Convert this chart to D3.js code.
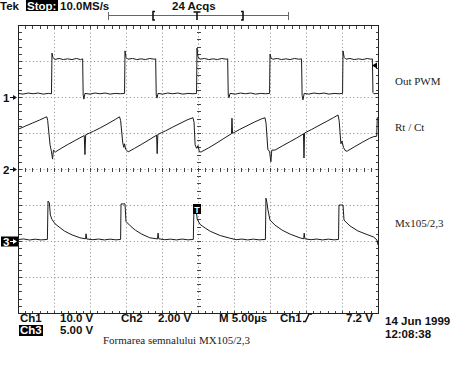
<!DOCTYPE html>
<html lang="en">
<head>
<meta charset="utf-8">
<title>Formarea semnalului MX105/2,3</title>
<script src="https://d3js.org/d3.v7.min.js"></script>
<style>
  body { margin: 0; background: #fff; }
  .tek { font-family: "Liberation Sans", Arial, sans-serif; font-weight: bold; font-size: 11.5px; fill: #111; }
  .note { font-family: "Liberation Serif", "Times New Roman", serif; font-size: 11px; fill: #222; }
  .grid { stroke: #8c8c8c; stroke-width: 1; stroke-dasharray: 1,2.6; fill: none; }
  .trace { fill: none; stroke: #1b1b1b; stroke-width: 1; stroke-linejoin: round; }
</style>
</head>
<body>
<script>
// time axis: 5 us / div, 10 divs ; 8 vertical divs
var timeDomain = [0, 50];
var divsX = 10, divsY = 8;

// channel settings: volts per div and ground position (divs from centre)
var chVoltsPerDiv = [10, 2, 5];
var chPositionDiv = [2, 0, -2];
var traceLabels = ["Out PWM", "Rt / Ct", "Mx105/2,3"];

// Ch1 - Out PWM  [us, V]
var ch1Trace = [
  [0,1.0],[0.7,0.8],[1.4,1.1],[2.1,0.9],[2.8,1.1],[3.5,0.8],[4.2,1.0],[4.65,0.9],
  [4.72,12.2],[4.85,11.0],[5.1,10.4],[5.7,10.7],[6.3,10.4],[6.9,10.6],[7.5,10.4],[8.1,10.7],[8.7,10.4],[8.98,10.6],
  [9.05,0.6],[9.15,-0.6],[9.3,1.0],[10.0,0.8],[10.7,1.1],[11.4,0.9],[12.1,1.1],[12.8,0.8],[13.5,1.0],[14.2,0.9],[14.8,1.0],
  [14.86,12.8],[15.0,11.0],[15.25,10.5],[15.9,10.7],[16.5,10.4],[17.1,10.6],[17.7,10.4],[18.3,10.7],[18.9,10.5],[19.12,10.6],
  [19.2,0.6],[19.3,-0.3],[19.45,1.0],[20.1,0.8],[20.8,1.1],[21.5,0.9],[22.2,1.1],[22.9,0.8],[23.6,1.0],[24.3,0.9],[24.8,1.0],
  [24.86,13.6],[25.0,11.2],[25.25,10.5],[25.9,10.7],[26.5,10.4],[27.1,10.6],[27.7,10.4],[28.3,10.7],[28.9,10.5],[29.12,10.6],
  [29.2,0.6],[29.3,-0.2],[29.45,1.0],[30.2,0.8],[30.9,1.1],[31.6,0.9],[32.3,1.1],[33.0,0.8],[33.7,1.0],[34.4,0.9],[34.94,1.0],
  [35.0,11.9],[35.15,10.8],[35.4,10.5],[36.0,10.7],[36.6,10.4],[37.2,10.6],[37.8,10.4],[38.4,10.7],[39.0,10.5],[39.38,10.6],
  [39.46,0.4],[39.58,-0.8],[39.75,1.0],[40.4,0.8],[41.1,1.1],[41.8,0.9],[42.5,1.1],[43.2,0.8],[43.9,1.0],[44.6,0.9],[45.08,1.0],
  [45.14,12.8],[45.3,11.0],[45.55,10.5],[46.1,10.7],[46.7,10.4],[47.3,10.6],[47.9,10.4],[48.5,10.7],[49.0,10.5],[49.22,10.6],
  [49.3,1.2],[49.45,0.9],[50,1.0]
];

// Ch2 - Rt / Ct  [us, V]
var ch2Trace = [
  [0,2.2],[1.0,2.38],[2.0,2.55],[3.0,2.72],[3.7,2.85],[4.0,2.9],[4.12,2.7],[4.45,1.35],[4.65,0.95],[4.8,0.55],[4.92,1.05],[5.2,0.95],
  [6.0,1.15],[7.0,1.38],[8.0,1.6],[9.2,1.86],[9.3,0.8],[9.4,1.9],[10.5,2.1],[11.5,2.3],[12.5,2.52],[13.5,2.75],[14.1,2.9],
  [14.25,2.7],[14.55,1.45],[14.7,1.2],[14.8,1.4],[14.95,1.1],[15.3,0.95],
  [16.2,1.15],[17.2,1.38],[18.2,1.62],[19.25,1.88],[19.33,0.85],[19.42,1.92],[20.5,2.12],[21.5,2.33],[22.5,2.53],[23.5,2.73],[24.3,2.85],
  [24.45,2.6],[24.6,1.35],[24.8,1.15],[25.0,1.3],[25.2,0.95],[25.45,0.95],
  [26.5,1.18],[27.5,1.42],[28.6,1.7],[29.65,1.96],[29.72,2.82],[29.8,1.98],[30.8,2.2],[31.8,2.4],[32.8,2.6],[33.8,2.78],[34.3,2.85],
  [34.45,2.55],[34.7,1.1],[34.95,0.95],[35.12,0.4],[35.25,1.05],[35.7,1.05],
  [36.7,1.28],[37.7,1.5],[38.7,1.72],[39.65,1.95],[39.72,0.61],[39.8,2.0],[40.8,2.2],[41.8,2.42],[42.8,2.63],[43.8,2.85],[44.45,3.0],
  [44.6,2.7],[44.85,1.4],[45.0,1.55],[45.2,1.2],[45.5,1.0],[45.75,1.0],
  [46.8,1.25],[47.8,1.48],[48.8,1.7],[49.4,1.8],[49.82,1.82],[49.9,2.85],[50,2.85]
];

// Ch3 - Mx105/2,3  [us, V]
var ch3Trace = [
  [0,0.2],[0.8,0.28],[1.6,0.14],[2.4,0.25],[3.2,0.15],[4.08,0.22],
  [4.17,5.55],[4.35,5.3],[4.5,3.6],[4.72,3.0],[5.14,2.4],[5.83,1.85],[6.5,1.35],[7.5,0.85],[8.6,0.45],[9.38,0.3],[9.45,1.0],[9.55,0.28],
  [10.4,0.18],[11.2,0.27],[12.0,0.15],[12.8,0.26],[13.6,0.16],[14.25,0.22],
  [14.31,5.15],[14.86,5.15],[15.0,2.7],[15.6,2.1],[16.3,1.5],[17.2,0.95],[18.3,0.45],[19.38,0.28],[19.45,1.1],[19.55,0.3],
  [20.4,0.18],[21.2,0.26],[22.0,0.15],[22.8,0.27],[23.6,0.16],[24.35,0.22],
  [24.44,4.8],[24.7,4.6],[24.9,3.0],[25.3,2.3],[26.0,1.8],[26.7,1.35],[28.1,0.75],[29.4,0.4],
  [30.3,0.18],[31.1,0.27],[31.9,0.15],[32.7,0.26],[33.5,0.16],[34.36,0.22],
  [34.44,5.95],[34.58,5.3],[34.72,4.3],[35.0,2.9],[35.7,2.2],[36.7,1.5],[37.8,0.95],[39.2,0.42],[39.68,0.3],[39.75,1.1],[39.85,0.3],
  [40.7,0.18],[41.5,0.27],[42.3,0.15],[43.1,0.26],[43.9,0.16],[44.52,0.22],
  [44.58,5.0],[45.14,5.0],[45.28,2.9],[46.1,2.1],[47.2,1.4],[48.6,0.85],[49.4,0.55],[49.85,0.15],[50,-0.55]
];

var traces = [ch1Trace, ch2Trace, ch3Trace];

var width = 462, height = 368;
var svg = d3.select("body").append("svg")
    .attr("width", width)
    .attr("height", height);

svg.append("rect").attr("width", width).attr("height", height).attr("fill", "#fff");

var x = d3.scaleLinear().domain(timeDomain).range([18, 378]);
var yDiv = d3.scaleLinear().domain([-divsY / 2, divsY / 2]).range([313, 25]);
var xDiv = d3.scaleLinear().domain([0, divsX]).range([18, 378]);

var g = svg.append("g").attr("transform", "translate(0.5,0.5)");

// dotted graticule
g.selectAll(".vgrid").data(d3.range(1, divsX)).enter().append("line")
  .attr("class", "grid")
  .attr("x1", function(d) { return xDiv(d); }).attr("x2", function(d) { return xDiv(d); })
  .attr("y1", yDiv(4)).attr("y2", yDiv(-4));
g.selectAll(".hgrid").data(d3.range(-3, 4)).enter().append("line")
  .attr("class", "grid")
  .attr("y1", function(d) { return yDiv(d); }).attr("y2", function(d) { return yDiv(d); })
  .attr("x1", xDiv(0)).attr("x2", xDiv(divsX));

// minor ticks on border and centre lines
var minorX = d3.range(0, divsX * 5 + 1).map(function(i) { return i / 5; });
var minorY = d3.range(-divsY * 5 / 2, divsY * 5 / 2 + 1).map(function(i) { return i / 5; });
var tk = g.append("g").attr("stroke", "#444").attr("stroke-width", 1).attr("shape-rendering", "crispEdges");
minorX.forEach(function(d) {
  var px = Math.round(xDiv(d));
  tk.append("line").attr("x1", px).attr("x2", px).attr("y1", yDiv(4)).attr("y2", yDiv(4) + 3);
  tk.append("line").attr("x1", px).attr("x2", px).attr("y1", yDiv(-4)).attr("y2", yDiv(-4) - 3);
  tk.append("line").attr("x1", px).attr("x2", px).attr("y1", yDiv(0) - 2).attr("y2", yDiv(0) + 2);
});
minorY.forEach(function(d) {
  var py = Math.round(yDiv(d));
  tk.append("line").attr("y1", py).attr("y2", py).attr("x1", xDiv(0)).attr("x2", xDiv(0) + 3);
  tk.append("line").attr("y1", py).attr("y2", py).attr("x1", xDiv(divsX)).attr("x2", xDiv(divsX) - 3);
  tk.append("line").attr("y1", py).attr("y2", py).attr("x1", xDiv(5) - 2).attr("x2", xDiv(5) + 2);
});

// border
g.append("rect")
  .attr("x", xDiv(0)).attr("y", yDiv(4))
  .attr("width", xDiv(divsX) - xDiv(0)).attr("height", yDiv(-4) - yDiv(4))
  .attr("fill", "none").attr("stroke", "#222").attr("shape-rendering", "crispEdges");

// traces
traces.forEach(function(tr, i) {
  var vd = chVoltsPerDiv[i], pos = chPositionDiv[i];
  var y = d3.scaleLinear()
    .domain([(-divsY / 2 - pos) * vd, (divsY / 2 - pos) * vd])
    .range([313, 25]);
  var line = d3.line()
    .x(function(d) { return x(d[0]); })
    .y(function(d) { return y(d[1]); });
  svg.append("path").datum(tr).attr("class", "trace").attr("d", line);

  // ground marker on the left
  var gy = Math.round(y(0)) + 0.5;
  var m = svg.append("g");
  if (i === 2) {
    m.append("rect").attr("x", 1).attr("y", gy - 5).attr("width", 17).attr("height", 10).attr("fill", "#000");
  }
  var col = i === 2 ? "#fff" : "#111";
  m.append("text").attr("class", "tek").attr("x", 3).attr("y", gy + 4.5)
    .style("fill", col).text(String(i + 1));
  m.append("line").attr("x1", 10).attr("x2", 14).attr("y1", gy).attr("y2", gy).attr("stroke", col);
  m.append("path").attr("d", "M13," + (gy - 2.5) + "L17," + gy + "L13," + (gy + 2.5) + "Z").attr("fill", col);

  // trace label on the right
  svg.append("text").attr("class", "note")
    .attr("x", 395).attr("y", [85, 131, 227][i])
    .text(traceLabels[i]);
});

// trigger level arrow (right edge, Ch1)
var yCh1 = d3.scaleLinear().domain([(-4 - 2) * 10, (4 - 2) * 10]).range([313, 25]);
var ty = Math.round(yCh1(9.0)) + 0.5;
svg.append("path").attr("d", "M372," + ty + "L377," + (ty - 3) + "L377," + (ty + 3) + "Z").attr("fill", "#000");

// trigger position marker
svg.append("rect").attr("x", 193).attr("y", 204).attr("width", 8).attr("height", 10).attr("fill", "#000");
svg.append("text").attr("class", "tek").attr("x", 197).attr("y", 212.5)
  .attr("text-anchor", "middle").style("font-size", "9px").style("fill", "#fff").text("T");

// top status line
svg.append("text").attr("class", "tek").attr("x", 0).attr("y", 10).text("Tek");
svg.append("rect").attr("x", 26).attr("y", 0).attr("width", 32).attr("height", 11).attr("fill", "#000");
svg.append("text").attr("class", "tek").attr("x", 27).attr("y", 10).style("fill", "#fff").text("Stop:");
svg.append("text").attr("class", "tek").attr("x", 60).attr("y", 10).text("10.0MS/s");
svg.append("text").attr("class", "tek").attr("x", 172).attr("y", 10).text("24 Acqs");

// record bar
var rb = svg.append("g").attr("stroke", "#666").attr("shape-rendering", "crispEdges");
rb.append("line").attr("x1", 108).attr("x2", 288).attr("y1", 15.5).attr("y2", 15.5);
rb.append("line").attr("x1", 108.5).attr("x2", 108.5).attr("y1", 12).attr("y2", 20);
rb.append("line").attr("x1", 288.5).attr("x2", 288.5).attr("y1", 12).attr("y2", 20);
var bk = svg.append("g").attr("stroke", "#111").attr("stroke-width", 1.6).attr("fill", "none");
bk.append("path").attr("d", "M155,11.5H153V20H155");
bk.append("path").attr("d", "M241,11.5H243V20H241");
bk.append("path").attr("d", "M193.5,12H200.5M197,12V20");

// bottom readouts
var row1 = 322, row2 = 334;
[["Ch1", 20], ["10.0 V", 60], ["Ch2", 121], ["2.00 V", 158], ["M 5.00\u00b5s", 219], ["Ch1", 280], ["7.2 V", 346]]
  .forEach(function(t) {
    svg.append("text").attr("class", "tek").attr("x", t[1]).attr("y", row1).text(t[0]);
  });
svg.append("path").attr("d", "M303,321.5H305.5L309,314H312")
  .attr("fill", "none").attr("stroke", "#111").attr("stroke-width", 1.4);
svg.append("rect").attr("x", 19).attr("y", 325).attr("width", 24).attr("height", 11).attr("fill", "#000");
svg.append("text").attr("class", "tek").attr("x", 20).attr("y", row2).style("fill", "#fff").text("Ch3");
svg.append("text").attr("class", "tek").attr("x", 60).attr("y", row2).text("5.00 V");

svg.append("text").attr("class", "tek").attr("x", 385).attr("y", 325).text("14 Jun 1999");
svg.append("text").attr("class", "tek").attr("x", 385).attr("y", 338).text("12:08:38");

// caption
svg.append("text").attr("class", "note").attr("x", 103).attr("y", 344)
  .text("Formarea semnalului MX105/2,3");
</script>
</body>
</html>
